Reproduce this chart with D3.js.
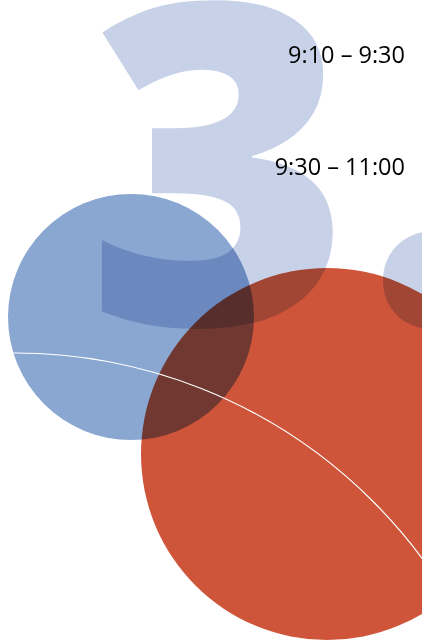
<!DOCTYPE html>
<html>
<head>
<meta charset="utf-8">
<script src="https://cdn.jsdelivr.net/npm/d3@7"></script>
<style>
  html, body { margin: 0; padding: 0; background: #fff; overflow: hidden; }
  svg { display: block; }
</style>
</head>
<body>
<div id="chart"></div>
<script>
// session slide values
const timeLabels = ['9:10 – 9:30', '9:30 – 11:00'];
const labelRows = [1, 2];
const numeralGlyphs = ['3', '.'];
const bubbleNames = ['blue', 'red'];
const bubbleX = [131, 327];
const bubbleY = [317, 454];
const bubbleR = [123, 186];
const ringX = [15];
const ringY = [859];
const ringR = [506];

const Width = 422;
const Height = 641;
// font per glyph: the digit in a heavy grotesque, the full stop with a round dot
const GlyphFonts = [
  { family: '"Open Sans", sans-serif', weight: 800, css: '800 100px "Open Sans"' },
  { family: 'Lato, sans-serif', weight: 700, css: '700 100px Lato' }
];
// ink box each glyph has to fill: [left, top, right, bottom]
const GlyphBoxes = [[100, 2, 335, 329], [381, 227, 485, 331]];

const svg = d3.select('#chart')
  .append('svg')
  .attr('width', Width)
  .attr('height', Height);

const x = d3.scaleLinear().domain([0, 422]).range([0, Width]);
const y = d3.scaleLinear().domain([0, 641]).range([0, Height]);
const r = d3.scaleLinear().domain([0, 422]).range([0, Width]);
const row = d3.scaleLinear().domain([1, 2]).range([63, 175]);
const colour = d3.scaleOrdinal().domain(bubbleNames).range(['#8aa7d2', '#cf553a']);

const ctx = document.createElement('canvas').getContext('2d');

// stretch a glyph set at 100px so that its ink fills the given box
function glyphTransform(glyph, font, box) {
  ctx.font = font.css;
  const m = ctx.measureText(glyph);
  const inkW = m.actualBoundingBoxLeft + m.actualBoundingBoxRight;
  const inkH = m.actualBoundingBoxAscent + m.actualBoundingBoxDescent;
  const sx = (box[2] - box[0]) / inkW;
  const sy = (box[3] - box[1]) / inkH;
  const tx = box[0] + m.actualBoundingBoxLeft * sx;
  const ty = box[1] + m.actualBoundingBoxAscent * sy;
  return `translate(${tx},${ty}) scale(${sx},${sy})`;
}

svg.selectAll('text.numeral')
  .data(numeralGlyphs)
  .enter()
  .append('text')
  .attr('class', 'numeral')
  .attr('transform', (d, i) => glyphTransform(d, GlyphFonts[i], GlyphBoxes[i]))
  .attr('font-family', (d, i) => GlyphFonts[i].family)
  .attr('font-weight', (d, i) => GlyphFonts[i].weight)
  .attr('font-size', 100)
  .attr('fill', '#c7d2e8')
  .text(d => d);

svg.selectAll('text.time')
  .data(timeLabels)
  .enter()
  .append('text')
  .attr('class', 'time')
  .attr('x', 405)
  .attr('y', (d, i) => row(labelRows[i]))
  .attr('text-anchor', 'end')
  .attr('font-family', '"Open Sans", sans-serif')
  .attr('font-size', 23.5)
  .attr('fill', '#000')
  .text(d => d);

svg.selectAll('circle.bubble')
  .data(bubbleNames)
  .enter()
  .append('circle')
  .attr('class', 'bubble')
  .attr('cx', (d, i) => x(bubbleX[i]))
  .attr('cy', (d, i) => y(bubbleY[i]))
  .attr('r', (d, i) => r(bubbleR[i]))
  .attr('fill', d => colour(d))
  .style('mix-blend-mode', 'multiply');

svg.selectAll('circle.ring')
  .data(ringR)
  .enter()
  .append('circle')
  .attr('class', 'ring')
  .attr('cx', (d, i) => x(ringX[i]))
  .attr('cy', (d, i) => y(ringY[i]))
  .attr('r', d => r(d))
  .attr('fill', 'none')
  .attr('stroke', '#fff')
  .attr('stroke-width', 1.2);
</script>
</body>
</html>
